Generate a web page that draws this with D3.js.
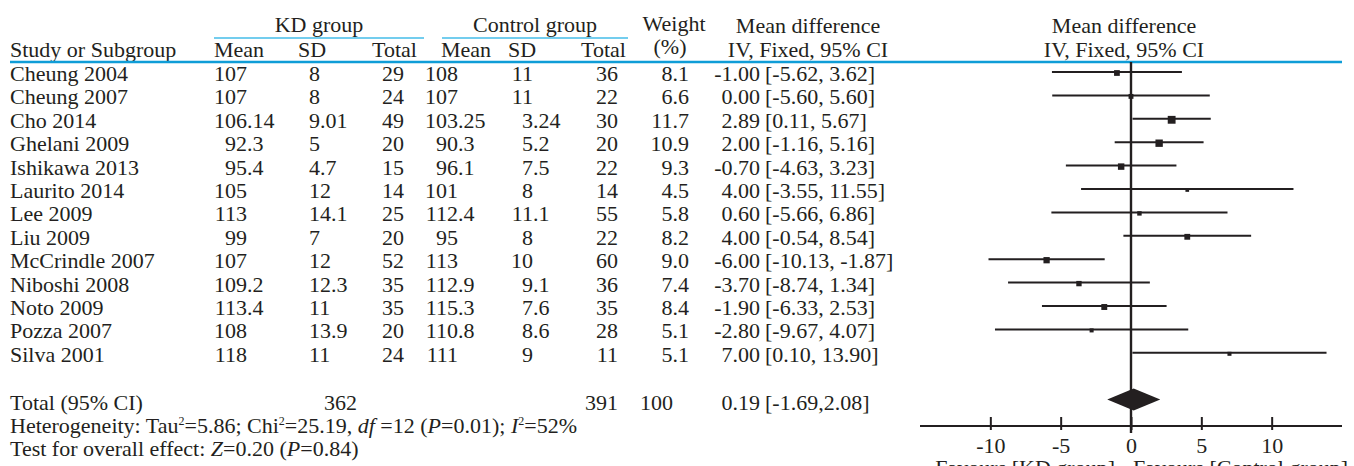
<!DOCTYPE html>
<html>
<head>
<meta charset="utf-8">
<script src="https://cdn.jsdelivr.net/npm/d3@7/dist/d3.min.js"></script>
<style>
	body { margin: 0; background: #fff; }
	text { font-family: "Liberation Serif", "Times New Roman", serif; font-size: 22px; fill: #231f20; }
</style>
</head>
<body>
<div id="forest"></div>
<script>

	/* forest plot, KD group vs control group, mean difference IV fixed */

	var studies = ["Cheung 2004","Cheung 2007","Cho 2014","Ghelani 2009","Ishikawa 2013","Laurito 2014","Lee 2009","Liu 2009","McCrindle 2007","Niboshi 2008","Noto 2009","Pozza 2007","Silva 2001"];
	var kdMean = [107,107,106.14,92.3,95.4,105,113,99,107,109.2,113.4,108,118];
	var kdSD = [8,8,9.01,5,4.7,12,14.1,7,12,12.3,11,13.9,11];
	var kdN = [29,24,49,20,15,14,25,20,52,35,35,20,24];
	var ctrlMean = [108,107,103.25,90.3,96.1,101,112.4,95,113,112.9,115.3,110.8,111];
	var ctrlSD = [11,11,3.24,5.2,7.5,8,11.1,8,10,9.1,7.6,8.6,9];
	var ctrlN = [36,22,30,20,22,14,55,22,60,36,35,28,11];
	var weight = [8.1,6.6,11.7,10.9,9.3,4.5,5.8,8.2,9.0,7.4,8.4,5.1,5.1];
	var md = [-1.00,0.00,2.89,2.00,-0.70,4.00,0.60,4.00,-6.00,-3.70,-1.90,-2.80,7.00];
	var mdLo = [-5.62,-5.60,0.11,-1.16,-4.63,-3.55,-5.66,-0.54,-10.13,-8.74,-6.33,-9.67,0.10];
	var mdHi = [3.62,5.60,5.67,5.16,3.23,11.55,6.86,8.54,-1.87,1.34,2.53,4.07,13.90];
	var totals = [362,391,100];
	var pooled = [0.19,-1.69,2.08];
	var tickValues = [-10,-5,0,5,10];

	var w = 1354, h = 466;
	var blue = "#0f9dd7", lightBlue = "#45bde9", ink = "#231f20";

	var svg = d3.select("#forest")
		.append("svg")
		.attr("width", w)
		.attr("height", h)
		.attr("viewBox", "0 0 " + w + " " + h);

	//row positions (row 13 is empty, 14 total, 15/16 notes)
	var y = d3.scaleLinear().domain([0,16]).range([72,446.4]);
	var x = d3.scaleLinear().domain([-15,15]).range([920,1342]);
	var box = d3.scaleLinear().domain([4,12]).range([3.4,8]);

	var txt = function(g, str, px, py, anchor) {
		return g.append("text")
			.attr("x", px)
			.attr("y", py)
			.attr("text-anchor", anchor || "start")
			.text(str);
	};

	//integer part right of xd, decimals left of xd
	var decimal = function(g, v, xd, py) {
		var parts = String(v).split(".");
		txt(g, parts[0], xd, py, "end");
		if (parts.length > 1) txt(g, "." + parts[1], xd, py, "start");
	};

	// header
	var head = svg.append("g").attr("id", "header");
	txt(head, "KD group", 319, 32, "middle");
	txt(head, "Control group", 535, 32, "middle");
	txt(head, "Weight", 674, 31, "middle");
	txt(head, "(%)", 670, 54, "middle");
	txt(head, "Mean difference", 808, 33, "middle");
	txt(head, "IV, Fixed, 95% CI", 808, 57, "middle");
	txt(head, "Mean difference", 1124, 33, "middle");
	txt(head, "IV, Fixed, 95% CI", 1124, 57, "middle");
	txt(head, "Study or Subgroup", 10, 57);
	txt(head, "Mean", 214, 57);
	txt(head, "SD", 298, 57);
	txt(head, "Total", 417, 57, "end");
	txt(head, "Mean", 441, 57);
	txt(head, "SD", 508, 57);
	txt(head, "Total", 626, 57, "end");

	head.append("line").attr("x1", 214).attr("x2", 424).attr("y1", 38).attr("y2", 38)
		.style("stroke", lightBlue).style("stroke-width", 1.6);
	head.append("line").attr("x1", 442).attr("x2", 628).attr("y1", 38).attr("y2", 38)
		.style("stroke", lightBlue).style("stroke-width", 1.6);
	head.append("line").attr("x1", 10).attr("x2", 1342).attr("y1", 62).attr("y2", 62)
		.style("stroke", blue).style("stroke-width", 2.6);

	// table rows
	var table = svg.append("g").attr("id", "table");
	for (var i=0; i<studies.length; i++) {
		var by = y(i) + 9;
		txt(table, studies[i], 10, by);
		decimal(table, kdMean[i], 247, by);
		txt(table, kdSD[i], 309, by);
		txt(table, kdN[i], 404, by, "end");
		decimal(table, ctrlMean[i], 458, by);
		decimal(table, ctrlSD[i], 533, by);
		txt(table, ctrlN[i], 618, by, "end");
		txt(table, weight[i].toFixed(1), 689, by, "end");
		txt(table, md[i].toFixed(2), 760, by, "end");
		txt(table, "[" + mdLo[i].toFixed(2) + ", " + mdHi[i].toFixed(2) + "]", 765, by);
	};

	var ty = y(14) + 10;
	txt(table, "Total (95% CI)", 10, ty);
	txt(table, totals[0], 357, ty, "end");
	txt(table, totals[1], 618, ty, "end");
	txt(table, totals[2], 673, ty, "end");
	txt(table, pooled[0].toFixed(2), 760, ty, "end");
	txt(table, "[" + pooled[1].toFixed(2) + "," + pooled[2].toFixed(2) + "]", 765, ty);

	var het = table.append("text").attr("x", 10).attr("y", y(15) + 10);
	het.append("tspan").text("Heterogeneity: Tau");
	het.append("tspan").attr("dy", -8).style("font-size", "12px").text("2");
	het.append("tspan").attr("dy", 8).text("=5.86; Chi");
	het.append("tspan").attr("dy", -8).style("font-size", "12px").text("2");
	het.append("tspan").attr("dy", 8).text("=25.19, ");
	het.append("tspan").style("font-style", "italic").text("df");
	het.append("tspan").text(" =12 (");
	het.append("tspan").style("font-style", "italic").text("P");
	het.append("tspan").text("=0.01); ");
	het.append("tspan").style("font-style", "italic").text("I");
	het.append("tspan").attr("dy", -8).style("font-size", "12px").text("2");
	het.append("tspan").attr("dy", 8).text("=52%");

	var eff = table.append("text").attr("x", 10).attr("y", y(16) + 10);
	eff.append("tspan").text("Test for overall effect: ");
	eff.append("tspan").style("font-style", "italic").text("Z");
	eff.append("tspan").text("=0.20 (");
	eff.append("tspan").style("font-style", "italic").text("P");
	eff.append("tspan").text("=0.84)");

	// forest
	var plot = svg.append("g").attr("id", "plot");

	plot.selectAll("line.ci")
		.data(studies)
		.enter()
		.append("line")
		.attr("class", "ci")
		.attr("x1", function(d,i) {return x(mdLo[i]);})
		.attr("x2", function(d,i) {return x(mdHi[i]);})
		.attr("y1", function(d,i) {return y(i);})
		.attr("y2", function(d,i) {return y(i);})
		.style("stroke", ink)
		.style("stroke-width", 2);

	plot.selectAll("rect.est")
		.data(studies)
		.enter()
		.append("rect")
		.attr("class", "est")
		.attr("x", function(d,i) {return x(md[i]) - box(weight[i])/2;})
		.attr("y", function(d,i) {return y(i) + 1 - box(weight[i])/2;})
		.attr("width", function(d,i) {return box(weight[i]);})
		.attr("height", function(d,i) {return box(weight[i]);})
		.style("fill", ink);

	plot.append("line")
		.attr("x1", x(0)).attr("x2", x(0))
		.attr("y1", 62).attr("y2", 433)
		.style("stroke", ink)
		.style("stroke-width", 2.4);

	var dy0 = y(14);
	plot.append("path")
		.attr("d", "M" + x(pooled[1]) + "," + dy0 +
			"L" + x(pooled[0]) + "," + (dy0 - 11) +
			"L" + x(pooled[2]) + "," + dy0 +
			"L" + x(pooled[0]) + "," + (dy0 + 11) + "Z")
		.style("fill", ink);

	// axis
	var axisY = 426;
	plot.append("line")
		.attr("x1", x(-15)).attr("x2", x(15))
		.attr("y1", axisY).attr("y2", axisY)
		.style("stroke", ink)
		.style("stroke-width", 2);

	var ax = plot.append("g")
		.attr("transform", "translate(0," + (axisY - 9) + ")")
		.call(d3.axisBottom(x)
			.tickValues(tickValues)
			.tickFormat(function(d) {return String(d);})
			.tickSize(13)
			.tickPadding(7));
	ax.select(".domain").remove();
	ax.selectAll(".tick line").style("stroke", ink).style("stroke-width", 2);
	ax.selectAll(".tick text")
		.attr("font-family", null)
		.attr("font-size", null)
		.style("fill", ink);

	txt(plot, "Favours [KD group]", 1115, 475, "end");
	txt(plot, "Favours [Control group]", 1133, 475);

</script>
</body>
</html>
